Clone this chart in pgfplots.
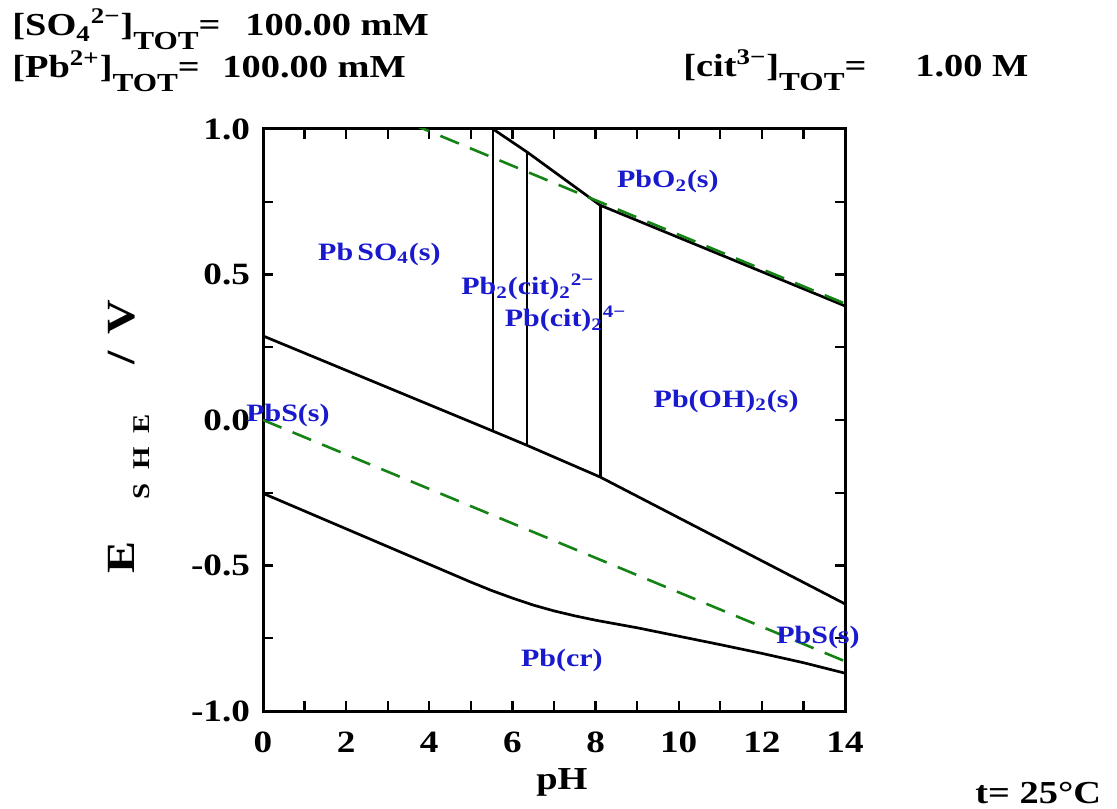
\documentclass[border=0pt]{standalone}
\usepackage{fontspec}
\setmainfont{Liberation Serif}[FakeStretch=1.2]
\usepackage{pgfplots}
\pgfplotsset{compat=1.18}
\definecolor{lblue}{RGB}{25,25,205}
\definecolor{dgreen}{RGB}{20,130,20}
\newcommand\tot{\raisebox{-0.42em}{\fontsize{13}{13}\selectfont TOT}}
\newcommand\bl{\fontsize{12.5}{12.5}\selectfont\bfseries\color{lblue}}
\begin{document}
\begin{tikzpicture}
\path[use as bounding box] (-131.5pt,-48.5pt) rectangle (427pt,355.5pt);
\begin{axis}[at={(0,0)}, anchor=south west, scale only axis, width=291pt, height=291pt,
 xmin=0,xmax=14,ymin=-1,ymax=1, clip mode=individual,
 xtick={0,2,...,14}, xticklabels={0,2,4,6,8,10,12,14}, minor xtick={1,3,...,13},
 ytick={-1,-0.5,0,0.5,1}, yticklabels={-1.0,-0.5,0.0,0.5,1.0}, minor ytick={-0.75,-0.25,0.25,0.75},
 tick align=inside, major tick length=5pt, minor tick length=5pt,
 axis line style={line width=1.5pt},
 every tick/.style={line width=1.2pt, black},
 ticklabel style={font=\fontsize{15.5}{15.5}\selectfont\bfseries},
 xticklabel style={yshift=-7pt},
 yticklabel style={xshift=-3pt},
]
% PbO2 boundary
\addplot[black, line width=1.35pt] coordinates {(5.53,1.0) (6.35,0.921) (8.11,0.738) (14,0.392)};
% verticals
\addplot[black, line width=1.35pt] coordinates {(5.53,1.0) (5.53,-0.038)};
\addplot[black, line width=1.35pt] coordinates {(6.35,0.921) (6.35,-0.087)};
\addplot[black, line width=1.35pt] coordinates {(8.11,0.738) (8.11,-0.196)};
% sulfate / sulfide boundary
\addplot[black, line width=1.35pt] coordinates {(0,0.289) (5.53,-0.038) (6.35,-0.087) (8.11,-0.196) (14,-0.632)};
% PbS / Pb boundary
\addplot[black, line width=1.35pt] coordinates {(0,-0.252) (1,-0.313) (2,-0.374) (3,-0.435) (4,-0.496) (5,-0.557) (5.5,-0.586) (6,-0.612) (6.5,-0.636) (7,-0.656) (7.5,-0.673) (8,-0.688) (9,-0.714) (10,-0.743) (11,-0.772) (12,-0.802) (13,-0.834) (14,-0.870)};
% water lines
\addplot[dgreen, line width=1.3pt, dash pattern=on 10pt off 6pt] coordinates {(0,1.229) (14,0.400)};
\addplot[dgreen, line width=1.3pt, dash pattern=on 10pt off 6pt] coordinates {(0,0) (14,-0.829)};
% labels
\node[font=\bl] at (axis cs:2.8,0.57) {Pb\,SO\textsubscript{4}(s)};
\node[font=\bl] at (axis cs:9.74,0.818) {PbO\textsubscript{2}(s)};
\node[font=\bl] at (axis cs:6.37,0.457) {Pb\textsubscript{2}(cit)\textsubscript{2}\textsuperscript{2−}};
\node[font=\bl] at (axis cs:7.28,0.347) {Pb(cit)\textsubscript{2}\textsuperscript{4−}};
\node[font=\bl] at (axis cs:11.14,0.065) {Pb(OH)\textsubscript{2}(s)};
\node[font=\bl] at (axis cs:0.6,0.017) {PbS(s)};
\node[font=\bl] at (axis cs:13.35,-0.746) {PbS(s)};
\node[font=\bl] at (axis cs:7.19,-0.828) {Pb(cr)};
\end{axis}
% titles
\begin{scope}[every node/.style={font=\fontsize{16}{16}\selectfont\bfseries, inner sep=0pt, anchor=base west}]
\node at (-125.5pt,337.5pt) {[SO\textsubscript{4}\textsuperscript{2−}]\tot=};
\node at (-9pt,337.5pt) {100.00 mM};
\node at (-125.5pt,316.5pt) {[Pb\textsuperscript{2+}]\tot=};
\node at (-20.5pt,316.5pt) {100.00 mM};
\node at (210pt,317pt) {[cit\textsuperscript{3−}]\tot=};
\node at (326pt,317pt) {1.00 M};
\node at (356pt,-46pt) {t= 25°C};
\end{scope}
\node[font=\fontsize{16}{16}\selectfont\bfseries] at (149.5pt,-35.5pt) {pH};
\node[rotate=90, inner sep=0pt, font=\fontsize{20}{20}\selectfont\bfseries] at (-67pt,137pt) {E\hspace{21pt}\raisebox{-7.5pt}{\fontsize{12}{12}\selectfont S\hspace{7pt}H\hspace{7pt}E}\hspace{25pt}/\hspace{8pt}V};
\end{tikzpicture}
\end{document}
